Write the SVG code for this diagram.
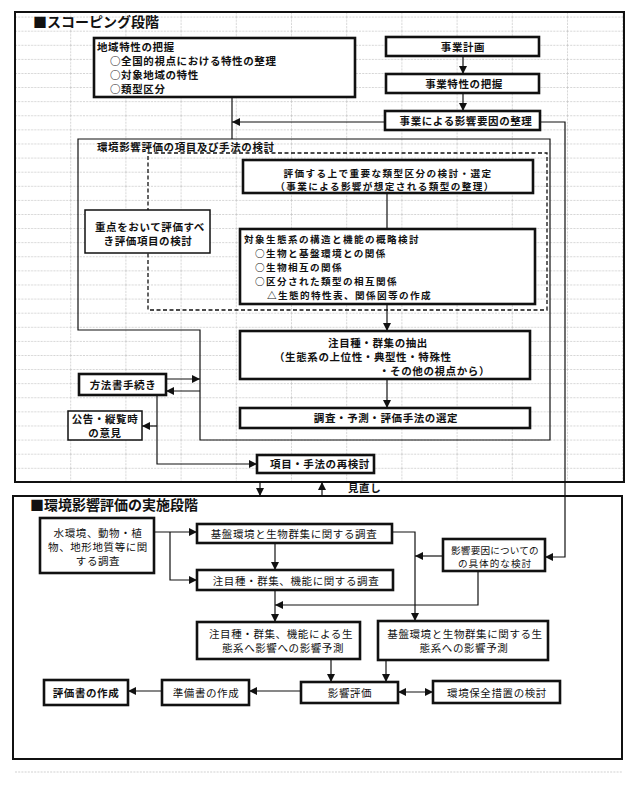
<svg xmlns="http://www.w3.org/2000/svg" width="634" height="788" viewBox="0 0 634 788">
<style>
  text { font-family: "Noto Sans CJK JP", "Noto Sans", sans-serif; font-size: 10.5px; letter-spacing: 0.6px; fill: #111; }
  .b { font-weight: bold; }
  .s { font-size: 9.6px; letter-spacing: 1.4px; }
  .title { font-size: 14px; font-weight: bold; letter-spacing: 0; }
  .c { text-anchor: middle; }
  .e { text-anchor: end; }
  .box { fill: #fff; stroke: #111; stroke-width: 2.6; }
  .thin { fill: #fff; stroke: #111; stroke-width: 1.5; }
  .frame { fill: none; stroke: #111; stroke-width: 2; }
  .inner { fill: none; stroke: #111; stroke-width: 1.2; }
  .dash { fill: none; stroke: #111; stroke-width: 1.3; stroke-dasharray: 4 2.5; }
  .ln { fill: none; stroke: #111; stroke-width: 1.2; }
  .arr { marker-end: url(#ah); }
  .arr2 { marker-start: url(#ah); marker-end: url(#ah); }
  .grid { stroke: #bdbdbd; stroke-width: 0.7; stroke-dasharray: 2 1.2; }
</style>
<defs>
  <marker id="ah" viewBox="0 0 8 8" refX="8" refY="4" markerWidth="8" markerHeight="8" markerUnits="userSpaceOnUse" orient="auto-start-reverse">
    <path d="M0,0 L8,4 L0,8 Z" fill="#111"/>
  </marker>
  <pattern id="gridp" x="15" y="16.6" width="55.2" height="14.1" patternUnits="userSpaceOnUse">
    <path class="grid" d="M0,0.4 H55.2 M0.4,0 V14.1"/>
  </pattern>
</defs>
<rect width="634" height="788" fill="#fff"/>
<rect x="16" y="13" width="607" height="468" fill="url(#gridp)"/>
<path class="grid" d="M15,772 H622"/>

<g id="frames">
  <rect id="scoping-frame" class="frame" x="15" y="12" width="609" height="470"/>
  <text class="title" x="33" y="27">■スコーピング段階</text>
  <rect id="impl-frame" class="frame" x="13" y="496" width="609" height="263"/>
  <text class="title" x="30" y="510">■環境影響評価の実施段階</text>
  <path id="method-frame" class="inner" d="M78,139 H550 V440 H200 V330 H78 Z"/>
  <text class="b" x="97" y="151">環境影響評価の項目及び手法の検討</text>
  <rect id="dashed-area" class="dash" x="148" y="153" width="399" height="157"/>
</g>

<g id="connectors">
  <path class="ln arr" d="M463,56 V74"/>
  <path class="ln arr" d="M463,93 V111"/>
  <path class="ln arr" d="M385,122 H232"/>
  <path class="ln" d="M232,97 V139"/>
  <path class="ln arr" d="M540,122 H565 V557 H545"/>
  <path class="ln" d="M387,193 V229"/>
  <path class="ln arr" d="M387,304 V331"/>
  <path class="ln arr" d="M387,379 V408"/>
  <path class="ln arr" d="M166,379 H200"/>
  <path class="ln arr" d="M200,391 H166"/>
  <path class="ln arr" d="M157,395 V464 H257"/>
  <path class="ln arr" d="M157,426 H142"/>
  <path class="ln arr" d="M260,482 V496"/>
  <path class="ln arr" d="M322,496 V482"/>
  <text class="b" x="348" y="492">見直し</text>
  <path class="ln arr" d="M154,532 H197"/>
  <path class="ln arr" d="M170,532 V580 H197"/>
  <path class="ln arr" d="M275,543 V570"/>
  <path class="ln arr" d="M275,590 V622"/>
  <path class="ln arr" d="M392,532 H415 V621"/>
  <path class="ln arr" d="M443,556 H415"/>
  <path class="ln arr" d="M478,571 V605 H275"/>
  <path class="ln arr" d="M331,659 V682"/>
  <path class="ln arr" d="M386,660 V682"/>
  <path class="ln arr2" d="M398,692 H433"/>
  <path class="ln arr" d="M301,691 H249"/>
  <path class="ln arr" d="M162,691 H128"/>
</g>

<g id="n-chiiki">
  <rect class="box" x="94" y="38" width="261" height="59"/>
  <text class="b" x="97" y="51">地域特性の把握</text>
  <text class="b" x="110" y="65">○全国的視点における特性の整理</text>
  <text class="b" x="110" y="79">○対象地域の特性</text>
  <text class="b" x="110" y="93">○類型区分</text>
</g>
<g id="n-jigyo-keikaku">
  <rect class="box" x="386" y="37" width="153" height="19"/>
  <text class="b c" x="463" y="50.5">事業計画</text>
</g>
<g id="n-jigyo-tokusei">
  <rect class="box" x="386" y="74" width="153" height="19"/>
  <text class="b c" x="464" y="87.5">事業特性の把握</text>
</g>
<g id="n-eikyo-yoin">
  <rect class="box" x="385" y="111" width="155" height="19"/>
  <text class="b c" x="466" y="124.5">事業による影響要因の整理</text>
</g>
<g id="n-juten">
  <rect class="thin" x="85" y="210" width="125" height="43"/>
  <text class="b c" x="150" y="231">重点をおいて評価すべ</text>
  <text class="b c" x="148" y="245">き評価項目の検討</text>
</g>
<g id="n-ruikei">
  <rect class="box" x="243" y="160" width="290" height="33"/>
  <text class="b c s" x="388" y="176.5">評価する上で重要な類型区分の検討・選定</text>
  <text class="b c s" x="385" y="189.5">（事業による影響が想定される類型の整理）</text>
</g>
<g id="n-seitaikei">
  <rect class="box" x="240" y="229" width="295" height="75"/>
  <text class="b s" x="244" y="243">対象生態系の構造と機能の概略検討</text>
  <text class="b s" x="255" y="257">○生物と基盤環境との関係</text>
  <text class="b s" x="255" y="271">○生物相互の関係</text>
  <text class="b s" x="255" y="285">○区分された類型の相互関係</text>
  <text class="b s" x="267" y="299">△生態的特性表、関係図等の作成</text>
</g>
<g id="n-chumokushu">
  <rect class="box" x="240" y="331" width="290" height="48"/>
  <text class="b c" x="378" y="347">注目種・群集の抽出</text>
  <text class="b" x="274" y="361">（生態系の上位性・典型性・特殊性</text>
  <text class="b e" x="490" y="375">・その他の視点から）</text>
</g>
<g id="n-shuho">
  <rect class="box" x="240" y="408" width="290" height="20"/>
  <text class="b c" x="386" y="422">調査・予測・評価手法の選定</text>
</g>
<g id="n-hohosho">
  <rect class="box" x="79" y="374" width="87" height="21"/>
  <text class="b c" x="123" y="389">方法書手続き</text>
</g>
<g id="n-kokoku">
  <rect class="thin" x="68" y="411" width="74" height="29"/>
  <text class="b c" x="105" y="423">公告・縦覧時</text>
  <text class="b c" x="105" y="437">の意見</text>
</g>
<g id="n-saikento">
  <rect class="box" x="257" y="455" width="117" height="18"/>
  <text class="b c" x="320" y="468">項目・手法の再検討</text>
</g>

<g id="n-mizu">
  <rect class="box" x="40" y="518" width="114" height="55"/>
  <text class="c" x="98" y="537">水環境、動物・植</text>
  <text class="c" x="98" y="551">物、地形地質等に関</text>
  <text class="c" x="98" y="565">する調査</text>
</g>
<g id="n-kiban-chosa">
  <rect class="box" x="197" y="524" width="195" height="19"/>
  <text class="c" x="294" y="538">基盤環境と生物群集に関する調査</text>
</g>
<g id="n-chumoku-chosa">
  <rect class="box" x="197" y="570" width="196" height="20"/>
  <text class="c" x="296" y="584.5">注目種・群集、機能に関する調査</text>
</g>
<g id="n-yoin-kento">
  <rect class="box" x="443" y="539" width="102" height="32"/>
  <text class="c s" x="495" y="553.5" style="letter-spacing:0.2px">影響要因についての</text>
  <text class="c s" x="495" y="566.5" style="letter-spacing:1px">の具体的な検討</text>
</g>
<g id="n-chumoku-yosoku">
  <rect class="box" x="197" y="622" width="163" height="37"/>
  <text class="c" x="281" y="638">注目種・群集、機能による生</text>
  <text class="c" x="283" y="652">態系へ影響への影響予測</text>
</g>
<g id="n-kiban-yosoku">
  <rect class="box" x="378" y="621" width="170" height="39"/>
  <text class="c" x="465" y="638">基盤環境と生物群集に関する生</text>
  <text class="c" x="464" y="652">態系への影響予測</text>
</g>
<g id="n-eikyo-hyoka">
  <rect class="box" x="301" y="682" width="97" height="21"/>
  <text class="c" x="350" y="697">影響評価</text>
</g>
<g id="n-hozen">
  <rect class="box" x="433" y="681" width="127" height="22"/>
  <text class="c" x="497" y="696.5">環境保全措置の検討</text>
</g>
<g id="n-junbisho">
  <rect class="box" x="162" y="680" width="87" height="25"/>
  <text class="c" x="206" y="697">準備書の作成</text>
</g>
<g id="n-hyokasho">
  <rect class="box" x="44" y="680" width="84" height="25"/>
  <text class="b c" x="86" y="697">評価書の作成</text>
</g>
</svg>
